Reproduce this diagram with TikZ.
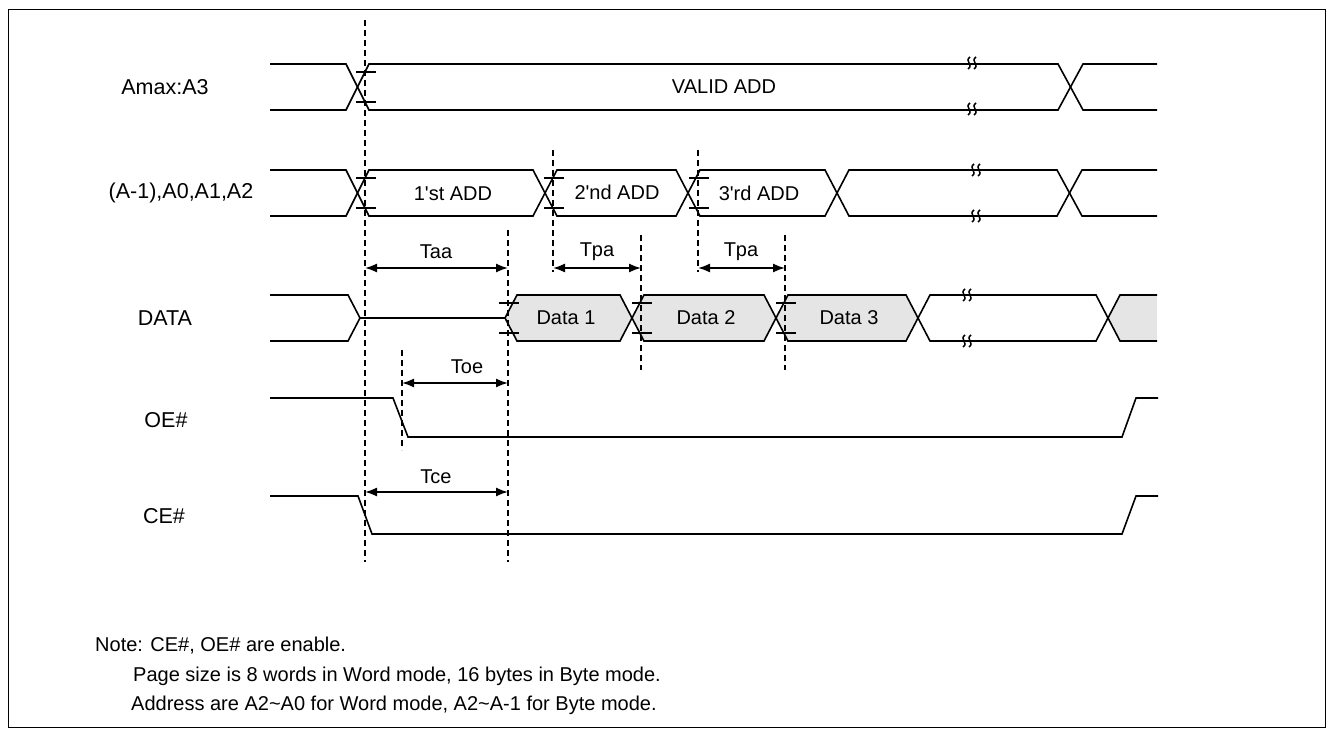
\documentclass[tikz,border=0pt]{standalone}
\usepackage{fontspec}
\setmainfont{Liberation Sans}
\usetikzlibrary{arrows.meta}
\begin{document}
\begin{tikzpicture}[x=1pt,y=-1pt,
  sig/.style={line width=1.6pt, line join=miter},
  dline/.style={line width=1.5pt, dash pattern=on 6pt off 4pt},
  tick/.style={line width=1.6pt},
  meas/.style={line width=1.6pt, {Latex[length=12pt,width=9pt]}-{Latex[length=12pt,width=9pt]}},
  lbl/.style={font=\fontsize{20}{24}\selectfont, inner sep=0pt},
  sname/.style={font=\fontsize{21.5}{26}\selectfont, inner sep=0pt},
  note/.style={font=\fontsize{20}{24}\selectfont, inner sep=0pt, anchor=west},
  datafill/.style={fill=black!10},
  brk/.style={line width=1.5pt}
]
\useasboundingbox (0,0) rectangle (1333,735);
\draw[line width=1pt] (8,10) rectangle (1325,727);

% signal labels
\node[sname] (lA) at (165,87) {Amax:A3};
\node[sname] (lB) at (181,193) {(A-1),A0,A1,A2};
\node[sname] (lD) at (165,318) {DATA};
\node[sname] (lO) at (166,420) {OE\#};
\node[sname] (lC) at (164,516) {CE\#};

% Amax:A3
\draw[sig] (270,64) -- (346,64) -- (369,110) -- (1058,110) -- (1083,64) -- (1157,64);
\draw[sig] (270,110) -- (346,110) -- (369,64) -- (1058,64) -- (1083,110) -- (1157,110);
\node[lbl] (valid) at (724,87) {VALID ADD};

% Address row
\draw[sig] (270,170) -- (346,170) -- (369,216) -- (533,216) -- (557,170) -- (676,170) -- (700,216) -- (825,216) -- (849,170) -- (1057,170) -- (1082,216) -- (1157,216);
\draw[sig] (270,216) -- (346,216) -- (369,170) -- (533,170) -- (557,216) -- (676,216) -- (700,170) -- (825,170) -- (849,216) -- (1057,216) -- (1082,170) -- (1157,170);
\node[lbl] (a1) at (453,194) {1\textquotesingle st ADD};
\node[lbl] (a2) at (617,192) {2\textquotesingle nd ADD};
\node[lbl] (a3) at (759,193) {3\textquotesingle rd ADD};

% DATA row
\draw[sig] (270,295) -- (348,295) -- (360,318) -- (505,318);
\draw[sig] (270,341) -- (348,341) -- (360,318);
\draw[sig,datafill] (505,318) -- (517,295) -- (620,295) -- (632,318) -- (620,341) -- (517,341) -- cycle;
\draw[sig,datafill] (632,318) -- (644,295) -- (764,295) -- (776,318) -- (764,341) -- (644,341) -- cycle;
\draw[sig,datafill] (776,318) -- (788,295) -- (906,295) -- (918,318) -- (906,341) -- (788,341) -- cycle;
\draw[sig] (918,318) -- (930,295) -- (1096,295) -- (1108,318) -- (1096,341) -- (930,341) -- cycle;
\fill[black!10] (1108,318) -- (1120,295) -- (1157,295) -- (1157,341) -- (1120,341) -- cycle;
\draw[sig] (1157,295) -- (1120,295) -- (1108,318) -- (1120,341) -- (1157,341);
\node[lbl] (d1) at (566,318) {Data 1};
\node[lbl] (d2) at (706,318) {Data 2};
\node[lbl] (d3) at (849,318) {Data 3};

% OE#, CE#
\draw[sig] (270,398) -- (393,398) -- (408,437) -- (1122,437) -- (1136,398) -- (1158,398);
\draw[sig] (270,496) -- (358,496) -- (372,534) -- (1122,534) -- (1136,496) -- (1158,496);

% break marks
\foreach \bx/\by in {973/63, 973/109, 977/170, 977/216, 968/295, 968/341}{
  \draw[brk] (\bx-5,\by+6) .. controls (\bx+1,\by+2) and (\bx-9,\by-2) .. (\bx-3,\by-6);
  \draw[brk] (\bx+1,\by+6) .. controls (\bx+7,\by+2) and (\bx-3,\by-2) .. (\bx+3,\by-6);
}

% ticks
\foreach \tx/\ty in {365/72, 365/102, 365/178, 365/208, 553/178, 553/208, 698/178, 698/208, 508/303, 508/333, 641/303, 641/333, 785/303, 785/333}{
  \draw[tick] (\tx-9,\ty) -- (\tx+11,\ty);
}

% dashed timing lines
\coordinate (t1a) at (365,20);  \coordinate (t1b) at (365,562);
\coordinate (t2a) at (508,230); \coordinate (t2b) at (508,562);
\coordinate (t3a) at (553,150); \coordinate (t3b) at (553,272);
\coordinate (t4a) at (641,235); \coordinate (t4b) at (641,370);
\coordinate (t5a) at (698,150); \coordinate (t5b) at (698,272);
\coordinate (t6a) at (785,235); \coordinate (t6b) at (785,370);
\coordinate (t7a) at (402,350); \coordinate (t7b) at (402,450);
\foreach \i in {1,...,7}{ \draw[dline] (t\i a) -- (t\i b); }

% measurement arrows
\coordinate (taaL) at (365,268); \coordinate (taaR) at (508,268);
\coordinate (tpa1L) at (553,268); \coordinate (tpa1R) at (641,268);
\coordinate (tpa2L) at (698,268); \coordinate (tpa2R) at (785,268);
\coordinate (toeL) at (402,383); \coordinate (toeR) at (508,383);
\coordinate (tceL) at (365,492); \coordinate (tceR) at (508,492);
\draw[meas] (taaL) -- (taaR);
\draw[meas] (tpa1L) -- (tpa1R);
\draw[meas] (tpa2L) -- (tpa2R);
\draw[meas] (toeL) -- (toeR);
\draw[meas] (tceL) -- (tceR);
\node[lbl] (Taa) at (436,252) {Taa};
\node[lbl] (Tpa1) at (597,252) {Tpa};
\node[lbl] (Tpa2) at (741,252) {Tpa};
\node[lbl] (Toe) at (467,367) {Toe};
\node[lbl] (Tce) at (436,477) {Tce};

% notes
\node[note] (n1) at (95,646) {Note: CE\#, OE\# are enable.};
\node[note] (n2) at (133,676) {Page size is 8 words in Word mode, 16 bytes in Byte mode.};
\node[note] (n3) at (131,705) {Address are A2\textasciitilde A0 for Word mode, A2\textasciitilde A-1 for Byte mode.};
\end{tikzpicture}
\end{document}
